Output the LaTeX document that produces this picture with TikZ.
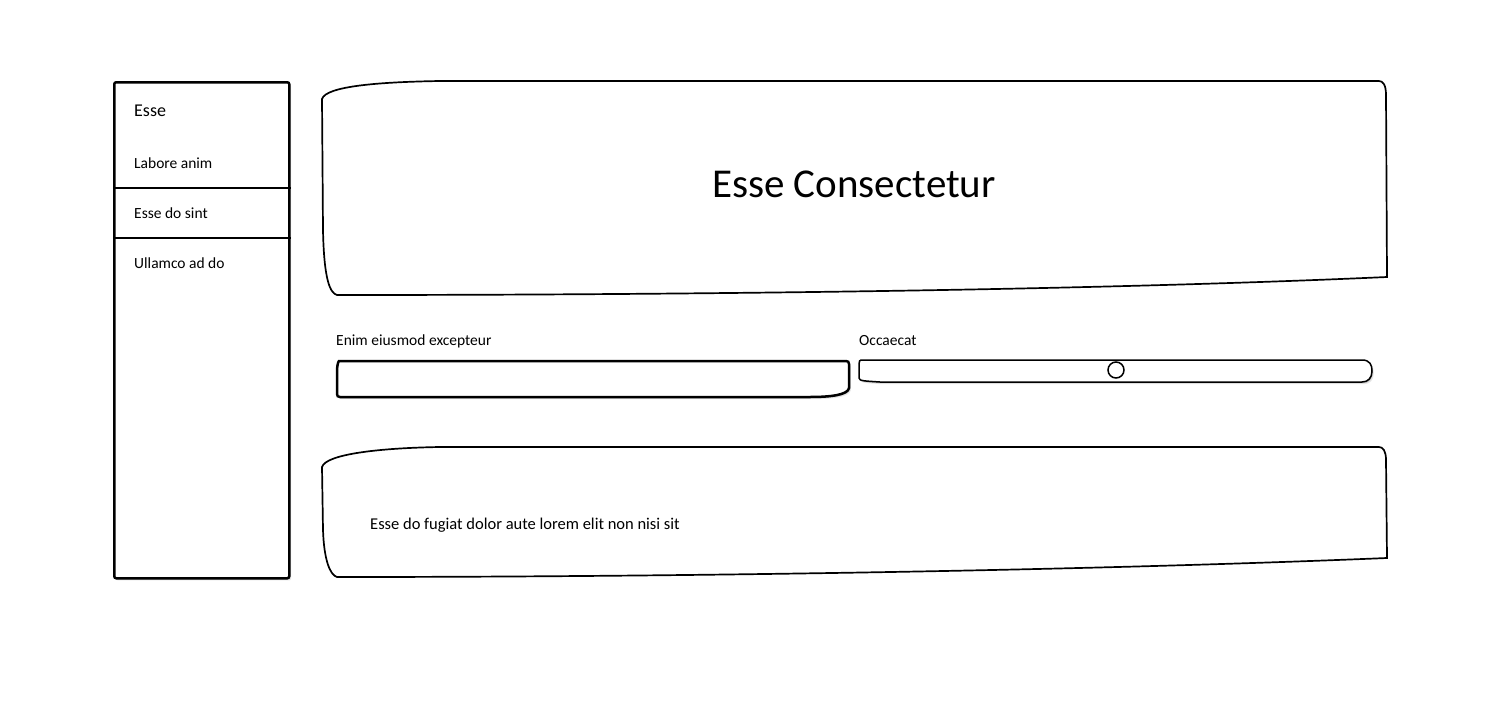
\documentclass[tikz,border=0pt]{standalone}
\usepackage{fontspec}
\setmainfont{Carlito}
\usetikzlibrary{shadows, positioning, calc}

\tikzset{
  sketch/.style={draw=black, line width=1.7pt, fill=white},
  boxshadow/.style={
    drop shadow={shadow xshift=1.8pt, shadow yshift=-2.2pt, opacity=0.2},
    drop shadow={shadow xshift=0.8pt, shadow yshift=-1.2pt, opacity=0.45}},
  lbl/.style={anchor=base west, inner sep=0pt, font=\fontsize{15.5}{18}\selectfont},
}

\begin{document}
\begin{tikzpicture}[x=1pt, y=-1pt]
        \fill[white] (0,0) rectangle (1500,720);
        \useasboundingbox (0,0) rectangle (1500,720);

        % side menu
        \node[draw, line width=2.5pt, fill=white, boxshadow, rounded corners=2pt, anchor=north west, minimum width=175pt, minimum height=496pt, inner sep=0pt] (side) at (113,81) {};
        \draw[line width=2.2pt] (side.west |- 0,188) -- (side.east |- 0,188);
        \draw[line width=2.2pt] (side.west |- 0,238) -- (side.east |- 0,238);
        \node[lbl, font=\fontsize{18}{20}\selectfont] (menuhead) at (134,116) {Esse};
        \node[lbl] (item1) at (134,168) {Labore anim};
        \node[lbl] (item2) at (134,218) {Esse do sint};
        \node[lbl] (item3) at (134,268) {Ullamco ad do};

        % header box
        \draw[sketch] (322,99) .. controls (326,86) and (380,82) .. (440,81) -- (1379,81) .. controls (1383,81) and (1386,85) .. (1386,95) -- (1387,277) .. controls (1100,290) and (700,295) .. (337,295) .. controls (330,293) and (324,280) .. (323,230) -- cycle;
        \node[anchor=base, inner sep=0pt, font=\fontsize{41}{45}\selectfont] (title) at (854,197) {Esse Consectetur};

        % text input
        \node[lbl] (inlabel) at (336,345) {Enim eiusmod excepteur};
        \draw[sketch, line width=2.5pt, boxshadow] (339,361) -- (846,361) .. controls (848,361) and (849,362) .. (849,364) -- (849,388) .. controls (848,395) and (830,397) .. (810,397) -- (340,397) .. controls (338,397) and (337,396) .. (337,394) -- (337,372) .. controls (337,366) and (338,362) .. (339,361) -- cycle;

        % slider
        \node[lbl] (sliderlabel) at (859,345) {Occaecat};
        \draw[sketch, line width=1.5pt, boxshadow] (861,360) -- (1362,360) .. controls (1370,360) and (1372,365) .. (1372,371) .. controls (1372,378) and (1368,382) .. (1362,382) -- (880,382) .. controls (865,381) and (859,381) .. (859,378) -- (859,364) .. controls (859,361) and (860,360) .. (861,360) -- cycle;
        \node[circle, draw, line width=1.5pt, fill=white, minimum size=16pt, inner sep=0pt] (knob) at (1116,370) {};

        % text box
        \draw[sketch] (322,467) .. controls (326,454) and (380,448) .. (440,447) -- (1379,447) .. controls (1383,447) and (1386,451) .. (1386,460) -- (1387,558) .. controls (1100,570) and (700,577) .. (337,577) .. controls (330,575) and (324,560) .. (323,530) -- cycle;
        \node[lbl, font=\fontsize{16.5}{19}\selectfont] (bodytext) at (370,529) {Esse do fugiat dolor aute lorem elit non nisi sit};
\end{tikzpicture}
\end{document}
